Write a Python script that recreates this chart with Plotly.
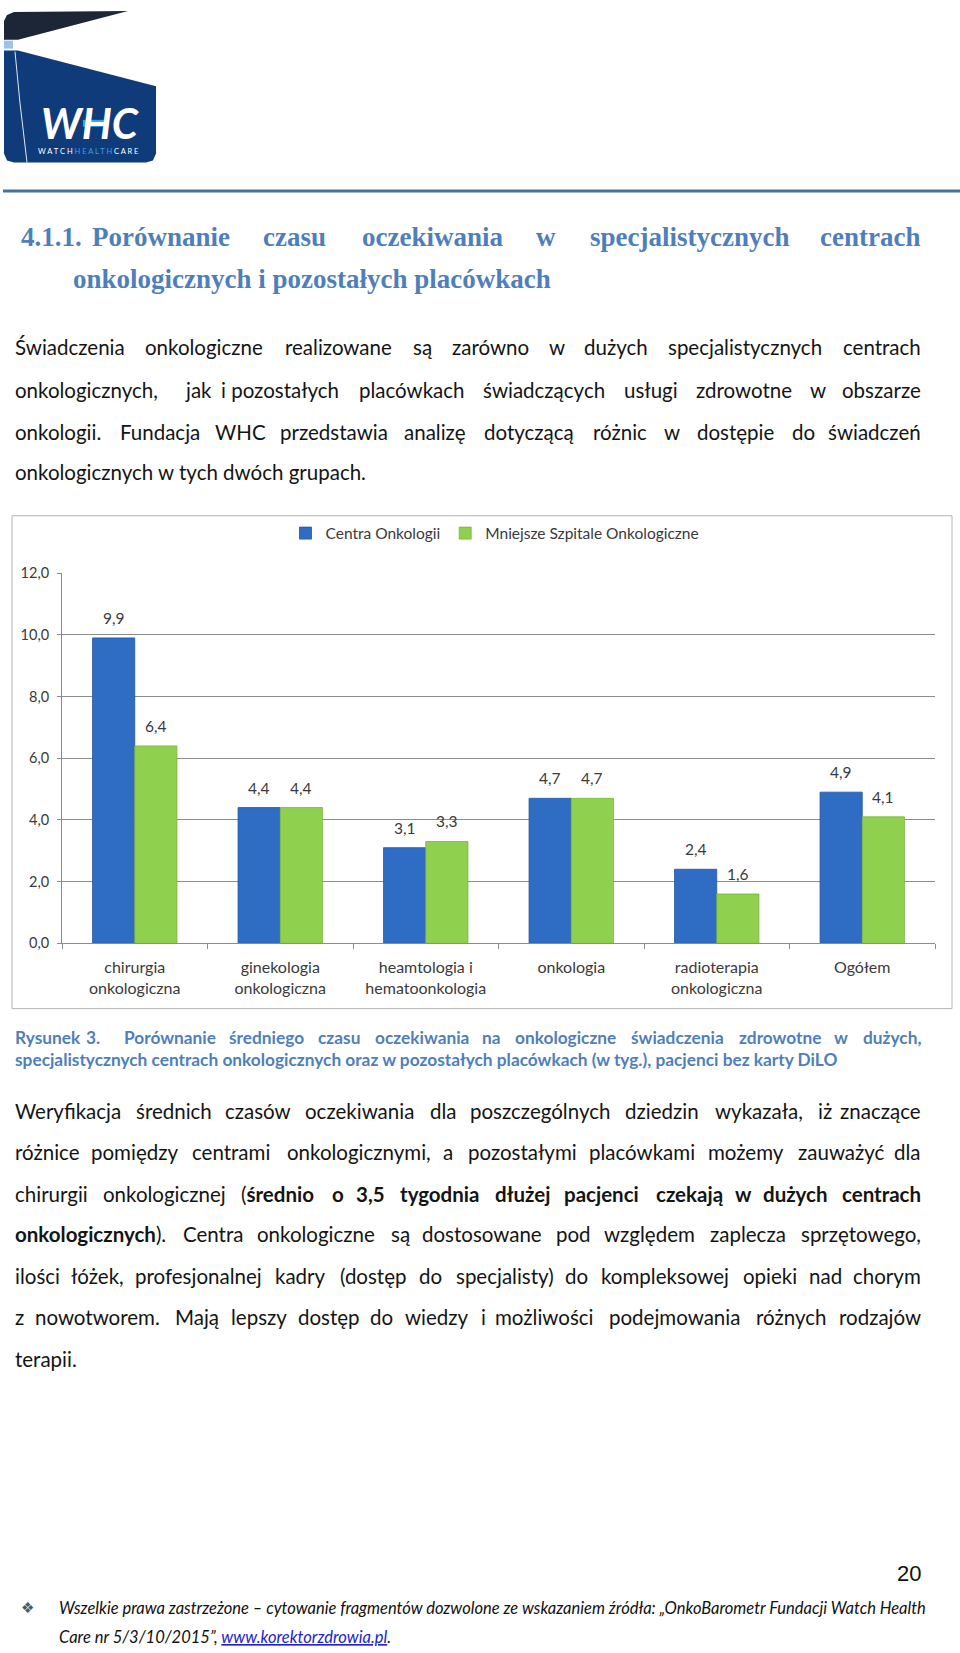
import plotly.graph_objects as go

W, H = 960, 1653

# ---------------- data ----------------
categories = ["chirurgia<br>onkologiczna", "ginekologia<br>onkologiczna", "heamtologia i<br>hematoonkologia",
              "onkologia", "radioterapia<br>onkologiczna", "Ogółem"]
centra_onkologii = [9.9, 4.4, 3.1, 4.7, 2.4, 4.9]
mniejsze_szpitale = [6.4, 4.4, 3.3, 4.7, 1.6, 4.1]
series_names = ["Centra Onkologii", "Mniejsze Szpitale Onkologiczne"]
y_tick_values = [0, 2, 4, 6, 8, 10, 12]

BLUE = "#2f6dc4"
GREEN = "#90d04f"
HEAD_COLOR = "#4f7fba"
TEXT = "#141414"
CHART_TEXT = "#3a3a3a"
BODY_FONT = "Lato"
HEAD_FONT = "Liberation Serif"


def px(x):
    return x / W


def py(y):
    return 1 - y / H


def path(points, close=True):
    s = "M " + " L ".join(f"{px(x):.5f},{py(y):.5f}" for x, y in points)
    return s + (" Z" if close else "")


annotations = []
shapes = []


def text(t, x, y, size, color=TEXT, anchor="left", family=BODY_FONT):
    annotations.append(dict(text=t, x=px(x), y=py(y), xref="paper", yref="paper",
                            xanchor=anchor, yanchor="middle", showarrow=False,
                            font=dict(size=size, color=color, family=family)))


def justified(words, y, size, color=TEXT, family=BODY_FONT):
    n = len(words)
    for i, (w, s, e) in enumerate(words):
        if i == 0:
            text(w, s, y, size, color, "left", family)
        elif i == n - 1:
            text(w, e, y, size, color, "right", family)
        else:
            text(w, (s + e) / 2, y, size, color, "center", family)


# ---------------- chart ----------------
fig = go.Figure()
fig.add_bar(x=categories, y=centra_onkologii, name=series_names[0],
            marker=dict(color=BLUE, line=dict(color="#24569c", width=0.8)))
fig.add_bar(x=categories, y=mniejsze_szpitale, name=series_names[1],
            marker=dict(color=GREEN, line=dict(color="#78b63a", width=0.8)))

for i, (a, b) in enumerate(zip(centra_onkologii, mniejsze_szpitale)):
    for val, off in ((a, -0.145), (b, 0.145)):
        annotations.append(dict(x=i + off, y=val, xref="x", yref="y",
                                text=f"{val:.1f}".replace(".", ","), showarrow=False,
                                yanchor="bottom", yshift=9,
                                font=dict(size=15.5, color=CHART_TEXT, family=BODY_FONT)))

# chart frame
shapes.append(dict(type="rect", xref="paper", yref="paper", x0=px(12), x1=px(952), y0=py(1010), y1=py(512),
                   line=dict(color="#b4b4b4", width=1), layer="below"))

# ---------------- logo ----------------
shapes.append(dict(type="path", xref="paper", yref="paper", fillcolor="#103b7a", line=dict(width=0),
                   path=path([(4, 42), (18, 42), (156, 78), (156, 146), (153, 153), (146, 155),
                              (14, 155), (7, 153), (4, 146)])))
shapes.append(dict(type="path", xref="paper", yref="paper", fillcolor="#1d2636", line=dict(width=0),
                   path=path([(4, 31), (4, 12), (7, 6), (14, 3), (128, 2), (18, 31)])))
shapes.append(dict(type="rect", xref="paper", yref="paper", x0=px(4), x1=px(13), y0=py(40), y1=py(32),
                   fillcolor="#9cc3e6", line=dict(width=0)))
shapes.append(dict(type="path", xref="paper", yref="paper", line=dict(color="#dfe8f3", width=1),
                   path=path([(15, 43), (20, 95), (27, 155)], close=False)))
shapes.append(dict(type="rect", xref="paper", yref="paper", x0=px(83), x1=px(107), y0=py(119), y1=py(112),
                   fillcolor="#35a8e0", line=dict(width=0)))
text("<b><i>WHC</i></b>", 90, 115, 42, "white", "center", "Lato")
text('W A T C H <span style="color:#3aa0e0">H E A L T H</span> C A R E', 88, 144, 7.5, "white", "center", "Lato")

# horizontal rule
shapes.append(dict(type="line", xref="paper", yref="paper", x0=px(3), x1=px(960), y0=py(184), y1=py(184),
                   line=dict(color="#47709e", width=3)))

# ---------------- heading ----------------
HS = 27
justified([("<b>4.1.1.</b>", 19, 83), ("<b>Porównanie</b>", 91, 230), ("<b>czasu</b>", 263, 326),
           ("<b>oczekiwania</b>", 361, 503), ("<b>w</b>", 537, 555), ("<b>specjalistycznych</b>", 590, 788),
           ("<b>centrach</b>", 823, 922)], 230, HS, HEAD_COLOR, HEAD_FONT)
text("<b>onkologicznych i pozostałych placówkach</b>", 71, 273, HS, HEAD_COLOR, "left", HEAD_FONT)

# ---------------- paragraph 1 ----------------
BS = 20.5
justified([("Świadczenia", 13, 125), ("onkologiczne", 144, 263), ("realizowane", 284, 393), ("są", 410, 434),
           ("zarówno", 451, 530), ("w", 548, 565), ("dużych", 584, 647), ("specjalistycznych", 667, 823),
           ("centrach", 843, 923)], 342, BS)
justified([("onkologicznych,", 13, 161), ("jak", 189, 207), ("i pozostałych", 220, 339), ("placówkach", 358, 465),
           ("świadczących", 481, 606), ("usługi", 623, 678), ("zdrowotne", 693, 794), ("w", 810, 826),
           ("obszarze", 843, 923)], 385, BS)
justified([("onkologii.", 13, 105), ("Fundacja", 119, 201), ("WHC", 217, 263), ("przedstawia", 279, 389),
           ("analizę", 405, 465), ("dotyczącą", 481, 576), ("różnic", 591, 649), ("w", 664, 680),
           ("dostępie", 694, 777), ("do", 791, 816), ("świadczeń", 830, 923)], 427, BS)
text("onkologicznych w tych dwóch grupach.", 13, 468, BS)

# ---------------- caption ----------------
CS = 17.3
justified([("<b>Rysunek</b>", 13, 76), ("<b>3.</b>", 84, 102), ("<b>Porównanie</b>", 121, 219),
           ("<b>średniego</b>", 228, 305), ("<b>czasu</b>", 317, 361), ("<b>oczekiwania</b>", 374, 469),
           ("<b>na</b>", 482, 502), ("<b>onkologiczne</b>", 515, 616), ("<b>świadczenia</b>", 630, 725),
           ("<b>zdrowotne</b>", 738, 822), ("<b>w</b>", 835, 847), ("<b>dużych,</b>", 864, 923)],
          1039, CS, HEAD_COLOR)
text("<b>specjalistycznych centrach onkologicznych oraz w pozostałych placówkach (w tyg.), pacjenci bez karty DiLO</b>",
     13, 1061, CS, HEAD_COLOR)

# ---------------- paragraph 2 ----------------
justified([("Weryfikacja", 13, 122), ("średnich", 135, 212), ("czasów", 225, 290), ("oczekiwania", 303, 415),
           ("dla", 429, 457), ("poszczególnych", 469, 610), ("dziedzin", 625, 698), ("wykazała,", 712, 805),
           ("iż", 820, 830), ("znaczące", 840, 923)], 1113, BS)
justified([("różnice", 13, 78), ("pomiędzy", 91, 177), ("centrami", 190, 272), ("onkologicznymi,", 283, 435),
           ("a", 443, 453), ("pozostałymi", 467, 577), ("placówkami", 587, 697), ("możemy", 707, 785),
           ("zauważyć", 797, 885), ("dla", 897, 923)], 1155, BS)
justified([("chirurgii", 13, 88), ("onkologicznej", 102, 227), ("(<b>średnio</b>", 234, 320), ("<b>o</b>", 332, 344),
           ("<b>3,5</b>", 355, 386), ("<b>tygodnia</b>", 397, 481), ("<b>dłużej</b>", 494, 550),
           ("<b>pacjenci</b>", 565, 638), ("<b>czekają</b>", 652, 727), ("<b>w</b>", 736, 750),
           ("<b>dużych</b>", 763, 828), ("<b>centrach</b>", 843, 923)], 1197, BS)
justified([("<b>onkologicznych</b>).", 13, 170), ("Centra", 183, 243), ("onkologiczne", 256, 375), ("są", 388, 412),
           ("dostosowane", 422, 543), ("pod", 556, 590), ("względem", 603, 696), ("zaplecza", 709, 786),
           ("sprzętowego,", 798, 923)], 1238, BS)
justified([("ilości", 13, 60), ("łóżek,", 70, 125), ("profesjonalnej", 133, 263), ("kadry", 272, 328),
           ("(dostęp", 338, 408), ("do", 418, 442), ("specjalisty)", 452, 558), ("do", 565, 588),
           ("kompleksowej", 598, 732), ("opieki", 742, 798), ("nad", 808, 842), ("chorym", 853, 923)], 1280, BS)
justified([("z", 13, 22), ("nowotworem.", 32, 163), ("Mają", 173, 220), ("lepszy", 230, 287), ("dostęp", 297, 360),
           ("do", 370, 393), ("wiedzy", 403, 470), ("i", 482, 485), ("możliwości", 493, 595),
           ("podejmowania", 606, 743), ("różnych", 755, 827), ("rodzajów", 837, 923)], 1322, BS)
text("terapii.", 13, 1364, BS)

# ---------------- footer ----------------
text("20", 923, 1581, 22, "#111111", "right", "Liberation Sans")
text("❖", 27, 1616, 15, "#555555", "center", "DejaVu Sans")
text("<i>Wszelkie prawa zastrzeżone – cytowanie fragmentów dozwolone ze wskazaniem źródła: „OnkoBarometr Fundacji Watch Health</i>",
     57, 1616, 16.5, "#111111")
text('<i>Care nr 5/3/10/2015”, <span style="color:#2424c8;text-decoration:underline">www.korektorzdrowia.pl</span>.</i>',
     57, 1645, 16.5, "#111111")

# ---------------- layout ----------------
fig.update_layout(
    width=W, height=H, margin=dict(l=0, r=0, t=0, b=0),
    paper_bgcolor="white", plot_bgcolor="rgba(0,0,0,0)",
    barmode="group", bargap=0.42, bargroupgap=0,
    separators=", ",
    showlegend=True,
    legend=dict(orientation="h", x=px(495), xanchor="center", y=py(530), yanchor="middle",
                font=dict(size=15.5, color=CHART_TEXT, family=BODY_FONT), bgcolor="rgba(0,0,0,0)",
                itemwidth=30, traceorder="normal"),
    xaxis=dict(domain=[px(62), px(935)], showline=True, linecolor="#8c8c8c", linewidth=1,
               ticks="outside", tickson="boundaries", ticklen=5, tickcolor="#8c8c8c",
               tickfont=dict(size=16, color=CHART_TEXT, family=BODY_FONT), ticklabelstandoff=10,
               showgrid=False, fixedrange=True),
    yaxis=dict(domain=[py(944), py(570)], range=[0, 12], tickvals=y_tick_values, tickformat=".1f",
               showline=True, linecolor="#8c8c8c", linewidth=1, ticks="outside", ticklen=4,
               tickcolor="#8c8c8c", showgrid=True, gridcolor="#8c8c8c", gridwidth=1,
               tickfont=dict(size=14.5, color=CHART_TEXT, family=BODY_FONT), ticklabelstandoff=5,
               zeroline=False, fixedrange=True),
    annotations=annotations, shapes=shapes,
    font=dict(family=BODY_FONT),
)

fig.write_html("out.html")
